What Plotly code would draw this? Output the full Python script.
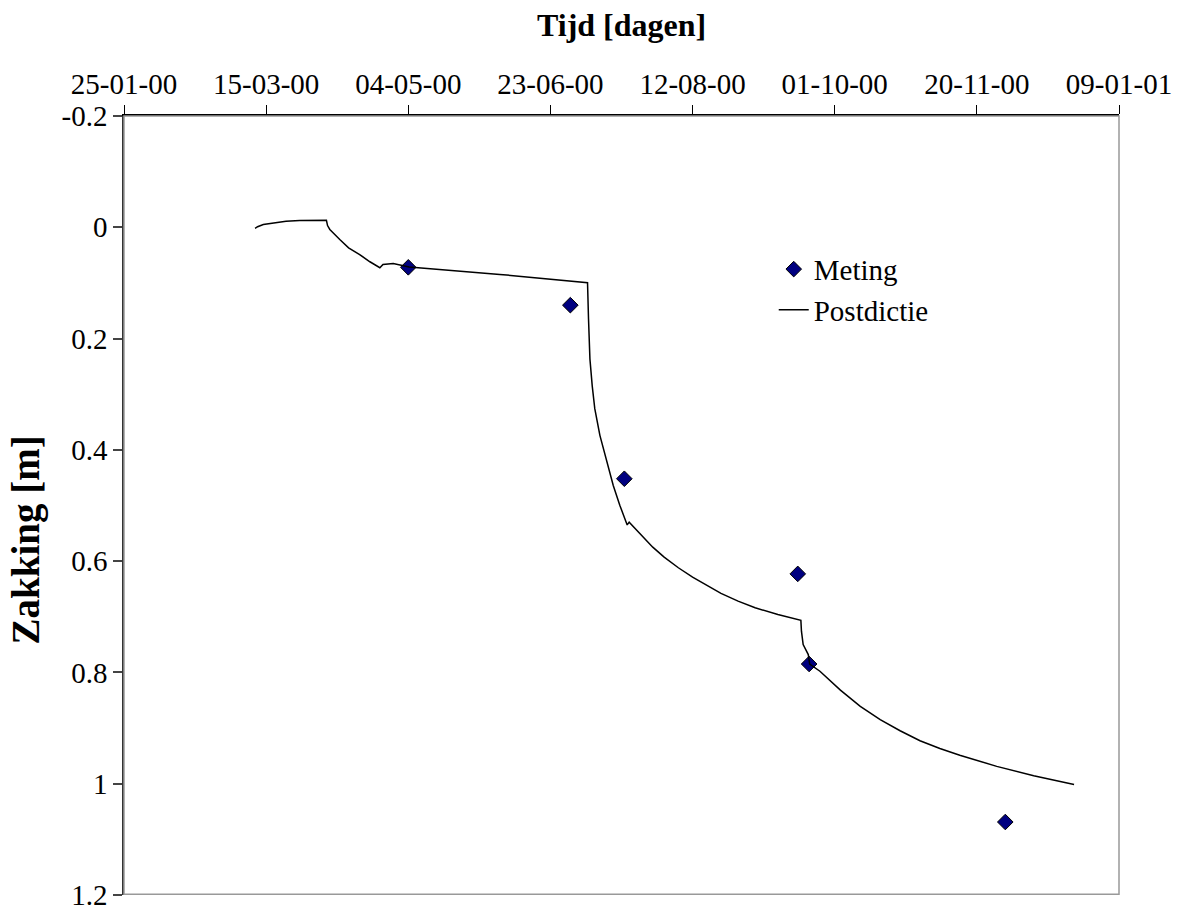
import pandas as pd
import plotly.graph_objects as go

# --- data ---
start_date = "2000-01-25"
meting_dates = ["2000-05-04", "2000-06-30", "2000-07-19", "2000-09-18", "2000-09-22", "2000-11-30"]
meting_vals = [0.072, 0.140, 0.452, 0.623, 0.785, 1.069]

# Postdictie: days since start_date and settlement [m]
post_days = [46.1, 47.0, 49.0, 52.4, 57.0, 61.8, 66.5, 71.2, 71.6, 72.4, 75.9, 79.0, 82.9,
             86.5, 90.0, 91.1, 94.7, 100.3, 132.2, 163.05, 163.4, 163.9, 164.7, 165.6, 167.4,
             169.7, 172.1, 174.4, 177.0, 177.7, 182.0, 186.0, 190.0, 195.0, 200.0, 205.0,
             210.0, 216.0, 222.0, 230.0, 238.1, 238.3, 238.9, 240.7, 241.2, 244.8, 252.0,
             259.0, 266.0, 273.0, 280.0, 287.0, 294.0, 307.0, 320.0, 334.2]
post_vals = [0.002, -0.001, -0.005, -0.008, -0.011, -0.012, -0.0125, -0.0125, -0.003, 0.004,
             0.022, 0.037, 0.049, 0.062, 0.0727, 0.0668, 0.065, 0.0716, 0.0847, 0.0996, 0.165,
             0.237, 0.285, 0.326, 0.374, 0.416, 0.464, 0.4996, 0.535, 0.530, 0.554, 0.575,
             0.593, 0.612, 0.629, 0.644, 0.658, 0.672, 0.684, 0.696, 0.7066, 0.726, 0.750,
             0.768, 0.785, 0.798, 0.832, 0.861, 0.885, 0.905, 0.923, 0.937, 0.949, 0.969,
             0.986, 1.0015]

x_tickvals = ["2000-01-25", "2000-03-15", "2000-05-04", "2000-06-23", "2000-08-12",
              "2000-10-01", "2000-11-20", "2001-01-09"]
x_ticktext = ["25-01-00", "15-03-00", "04-05-00", "23-06-00", "12-08-00",
              "01-10-00", "20-11-00", "09-01-01"]
y_tickvals = [-0.2, 0, 0.2, 0.4, 0.6, 0.8, 1.0, 1.2]
y_ticktext = ["-0.2", "0", "0.2", "0.4", "0.6", "0.8", "1", "1.2"]

post_x = pd.Timestamp(start_date) + pd.to_timedelta(post_days, unit="D")

FONT = "Liberation Serif, Times New Roman, serif"

fig = go.Figure()
fig.add_trace(go.Scatter(
    x=pd.to_datetime(meting_dates), y=meting_vals, mode="markers", name="Meting",
    marker=dict(symbol="diamond", size=12, color="#000080", line=dict(color="black", width=1)),
))
fig.add_trace(go.Scatter(
    x=post_x, y=post_vals, mode="lines", name="Postdictie",
    line=dict(color="black", width=1.5),
))

# grey frame (right/bottom)
fig.add_shape(type="rect", xref="paper", yref="paper", x0=0, x1=1, y0=0.001, y1=1,
              line=dict(color="#999999", width=1.5), layer="above")

fig.update_layout(
    width=1179, height=910,
    margin=dict(l=124, r=60, t=116, b=15, pad=0, autoexpand=False),
    paper_bgcolor="white", plot_bgcolor="white",
    font=dict(family=FONT, size=29, color="black"),
    showlegend=True,
    legend=dict(x=0.653, y=0.836, xanchor="left", yanchor="top",
                bgcolor="rgba(0,0,0,0)", font=dict(size=29, family=FONT),
                itemwidth=30, tracegroupgap=0),
    xaxis=dict(
        type="date", side="top", automargin=False,
        range=["2000-01-25", "2001-01-09"],
        tickvals=pd.to_datetime(x_tickvals), ticktext=x_ticktext,
        ticks="outside", ticklen=9, tickcolor="black", tickwidth=1,
        showline=True, linecolor="black", linewidth=1.5,
        showgrid=False, zeroline=False, ticklabeloverflow="allow",
        tickfont=dict(size=29, family=FONT),
    ),
    yaxis=dict(
        range=[1.2002, -0.2], automargin=False,
        tickvals=y_tickvals, ticktext=y_ticktext,
        ticks="outside", ticklen=9, tickcolor="#444444", tickwidth=1.5,
        showline=True, linecolor="#333333", linewidth=1.5,
        showgrid=False, zeroline=False, ticklabeloverflow="allow",
        tickfont=dict(size=29, family=FONT),
    ),
    annotations=[
        dict(text="<b>Tijd [dagen]</b>", xref="paper", yref="paper", x=0.5, y=1,
             yshift=91, xanchor="center", yanchor="middle", showarrow=False,
             font=dict(size=32, family=FONT)),
        dict(text="<b>Zakking [m]</b>", xref="paper", yref="paper", x=0, y=0.5,
             xshift=-99, yshift=-35, xanchor="center", yanchor="middle", textangle=-90,
             showarrow=False, font=dict(size=39, family=FONT)),
    ],
)

fig.write_html("out.html")
